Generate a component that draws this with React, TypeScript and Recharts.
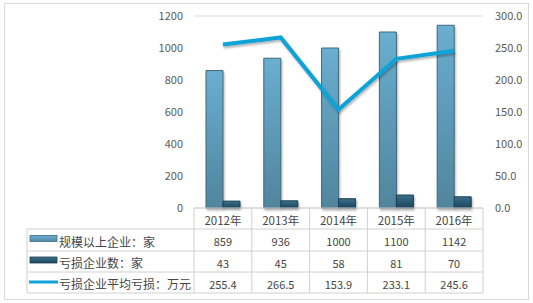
import { Bar, CartesianGrid, ComposedChart, Line, XAxis, YAxis } from 'recharts';

const years = ['2012年', '2013年', '2014年', '2015年', '2016年'];
const scaleCompanies = [859, 936, 1000, 1100, 1142];
const lossCompanies = [43, 45, 58, 81, 70];
const avgLoss = [255.4, 266.5, 153.9, 233.1, 245.6];
const leftTicks = [0, 200, 400, 600, 800, 1000, 1200];
const rightTicks = [0, 50, 100, 150, 200, 250, 300];

const seriesNames = ['规模以上企业：家', '亏损企业数：家', '亏损企业平均亏损：万元'];

const data = years.map((year, i) => ({
  year,
  scale: scaleCompanies[i],
  loss: lossCompanies[i],
  avg: avgLoss[i],
}));

const W = 533;
const H = 303;
const plotLeft = 194;
const plotRight = 483;
const plotTop = 16;
const plotBottom = 208;
const tableLeft = 27;
const rowLines = [208, 229, 251, 272, 293];
const font = '"Noto Sans CJK SC", "Noto Sans", sans-serif';
const textColor = '#454545';

const DataTable = () => {
  const colW = (plotRight - plotLeft) / years.length;
  const rows = [scaleCompanies.map(String), lossCompanies.map(String), avgLoss.map((v) => v.toFixed(1))];
  const grid = '#d0d0d0';
  return (
    <svg width={W} height={H} style={{ position: 'absolute', left: 0, top: 0, pointerEvents: 'none' }}>
      {/* header row */}
      <line x1={plotLeft} x2={plotRight} y1={rowLines[0]} y2={rowLines[0]} stroke={grid} />
      {rowLines.slice(1).map((y) => (
        <line key={y} x1={tableLeft} x2={plotRight} y1={y} y2={y} stroke={grid} />
      ))}
      <line x1={tableLeft} x2={tableLeft} y1={rowLines[1]} y2={rowLines[4]} stroke={grid} />
      {years.map((_, i) => (
        <line key={i} x1={plotLeft + i * colW} x2={plotLeft + i * colW} y1={rowLines[0]} y2={rowLines[4]} stroke={grid} />
      ))}
      <line x1={plotRight} x2={plotRight} y1={rowLines[0]} y2={rowLines[4]} stroke={grid} />
      {years.map((y, i) => (
        <text key={y} x={plotLeft + (i + 0.5) * colW} y={(rowLines[0] + rowLines[1]) / 2 + 1} textAnchor="middle"
          dominantBaseline="central" fontSize={11.5} fontFamily={font} fill={textColor}>{y}</text>
      ))}
      {rows.map((r, ri) => r.map((v, i) => (
        <text key={`${ri}-${i}`} x={plotLeft + (i + 0.5) * colW} y={(rowLines[ri + 1] + rowLines[ri + 2]) / 2 + 1}
          textAnchor="middle" dominantBaseline="central" fontSize={11} fontFamily={font} fill={textColor}>{v}</text>
      )))}
      {/* legend keys */}
      <rect x={30} y={235.5} width={27} height={6} fill="url(#tblLight)" stroke="#3f6a80" strokeWidth={0.8} />
      <rect x={30} y={257} width={27} height={6} fill="url(#tblDark)" stroke="#1d3f52" strokeWidth={0.8} />
      <line x1={29} x2={58} y1={282} y2={282} stroke="#10a2d8" strokeWidth={3} />
      <defs>
        <linearGradient id="tblLight" x1="0" y1="0" x2="0" y2="1">
          <stop offset="0%" stopColor="#6cb0d2" />
          <stop offset="100%" stopColor="#4f8aa4" />
        </linearGradient>
        <linearGradient id="tblDark" x1="0" y1="0" x2="0" y2="1">
          <stop offset="0%" stopColor="#3d728e" />
          <stop offset="100%" stopColor="#1b4358" />
        </linearGradient>
      </defs>
      {seriesNames.map((n, i) => (
        <text key={n} x={59} y={(rowLines[i + 1] + rowLines[i + 2]) / 2 + 1} dominantBaseline="central"
          fontSize={12} fontFamily={font} fill={textColor}>{n}</text>
      ))}
    </svg>
  );
};

export default function App() {
  return (
    <div style={{ position: 'absolute', left: 0, top: 0, width: W, height: H, background: '#fff' }}>
      <div style={{ position: 'absolute', left: 4, top: 3, width: 525, height: 297, border: '1px solid #d9d9d9', boxSizing: 'border-box' }} />
      <ComposedChart
        width={W}
        height={H}
        data={data}
        margin={{ top: plotTop, bottom: H - plotBottom, left: 0, right: 0 }}
        barGap={0}
        barSize={17}
      >
        <defs>
          <linearGradient id="lightBar" x1="0" y1="0" x2="0" y2="1">
            <stop offset="0%" stopColor="#6aaed0" />
            <stop offset="100%" stopColor="#50859d" />
          </linearGradient>
          <linearGradient id="darkBar" x1="0" y1="0" x2="0" y2="1">
            <stop offset="0%" stopColor="#3a6f8c" />
            <stop offset="100%" stopColor="#1c455a" />
          </linearGradient>
          <filter id="shadow" x="-20%" y="-20%" width="140%" height="160%">
            <feDropShadow dx="1" dy="2" stdDeviation="1.2" floodColor="#000" floodOpacity="0.3" />
          </filter>
        </defs>
        <CartesianGrid vertical={false} stroke="#d9d9d9" />
        <XAxis dataKey="year" hide />
        <YAxis
          yAxisId="left"
          width={plotLeft}
          domain={[0, 1200]}
          ticks={leftTicks}
          axisLine={false}
          tickLine={false}
          tickMargin={5}
          tick={{ fontSize: 11, fontFamily: font, fill: '#595959' }}
        />
        <YAxis
          yAxisId="right"
          orientation="right"
          width={W - plotRight}
          domain={[0, 300]}
          ticks={rightTicks}
          axisLine={false}
          tickLine={false}
          tickMargin={6}
          tickFormatter={(v: number) => v.toFixed(1)}
          tick={{ fontSize: 11, fontFamily: font, fill: '#595959', textAnchor: 'start' }}
        />
        <Bar yAxisId="left" dataKey="scale" fill="url(#lightBar)" stroke="#41687c" strokeWidth={1}
          filter="url(#shadow)" isAnimationActive={false} />
        <Bar yAxisId="left" dataKey="loss" fill="url(#darkBar)" stroke="#1d3f52" strokeWidth={1}
          filter="url(#shadow)" isAnimationActive={false} />
        <Line yAxisId="right" dataKey="avg" stroke="#10a2d8" strokeWidth={4} dot={false} type="linear"
          filter="url(#shadow)" isAnimationActive={false} />
      </ComposedChart>
      <DataTable />
    </div>
  );
}
